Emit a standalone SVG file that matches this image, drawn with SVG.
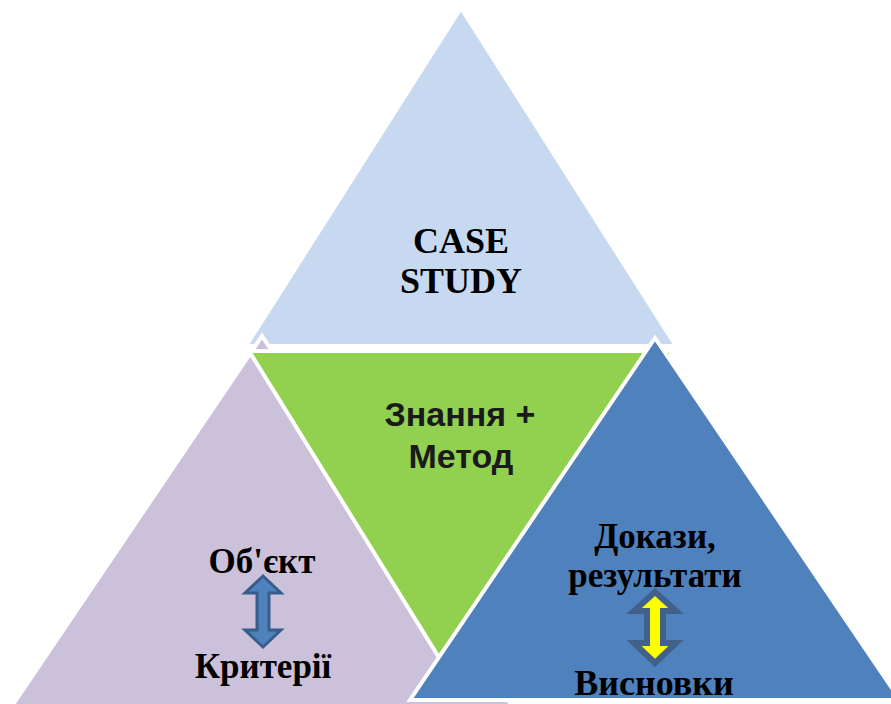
<svg xmlns="http://www.w3.org/2000/svg" width="891" height="704" viewBox="0 0 891 704">
<style>
.tri{stroke:#FFFFFF;stroke-width:4;stroke-linejoin:miter}
.t{font-family:"Liberation Serif","Times New Roman",serif;font-weight:bold;fill:#000000;text-anchor:middle}
.s{font-family:"Liberation Sans",Arial,sans-serif;font-weight:bold;fill:#1a1a1a;text-anchor:middle}
</style>
<rect width="891" height="704" fill="#FFFFFF"/>
<g id="case-study">
<polygon class="tri" points="461,8 246,346 676,346" fill="#C6D9F0" stroke="none"/>
<text class="t" x="461" y="253" font-size="36">CASE</text>
<text class="t" x="461" y="293" font-size="36">STUDY</text>
</g>
<g id="object">
<polygon class="tri" points="262,336 12,706 512,706" fill="#CCC1DA"/>
<text class="t" x="262" y="573" font-size="35">Об'єкт</text>
<text class="t" x="263" y="678" font-size="35">Критерії</text>
</g>
<g id="knowledge">
<polygon class="tri" points="249,351 673,351 461,693" fill="#92D050"/>
<text class="s" x="460" y="426" font-size="34">Знання +</text>
<text class="s" x="461" y="468" font-size="34">Метод</text>
</g>
<g id="evidence">
<polygon class="tri" points="655,338 410,700 900,700" fill="#4F81BD"/>
<text class="t" x="655" y="548" font-size="35">Докази,</text>
<text class="t" x="655" y="587" font-size="35">результати</text>
<text class="t" x="654" y="695" font-size="36">Висновки</text>
</g>
<g id="connectors">
<path d="M263,576 L281,593 L269,593 L269,630 L281,630 L263,647 L245,630 L257,630 L257,593 L245,593 Z" fill="#4F81BD" stroke="#385D8A" stroke-width="3" stroke-linejoin="miter"/>
<path d="M655,592 L676,611 L663,611 L663,643 L676,643 L655,663 L634,643 L647,643 L647,611 L634,611 Z" fill="#FFFF00" stroke="#41618A" stroke-width="6" stroke-linejoin="miter"/>
</g>
</svg>
